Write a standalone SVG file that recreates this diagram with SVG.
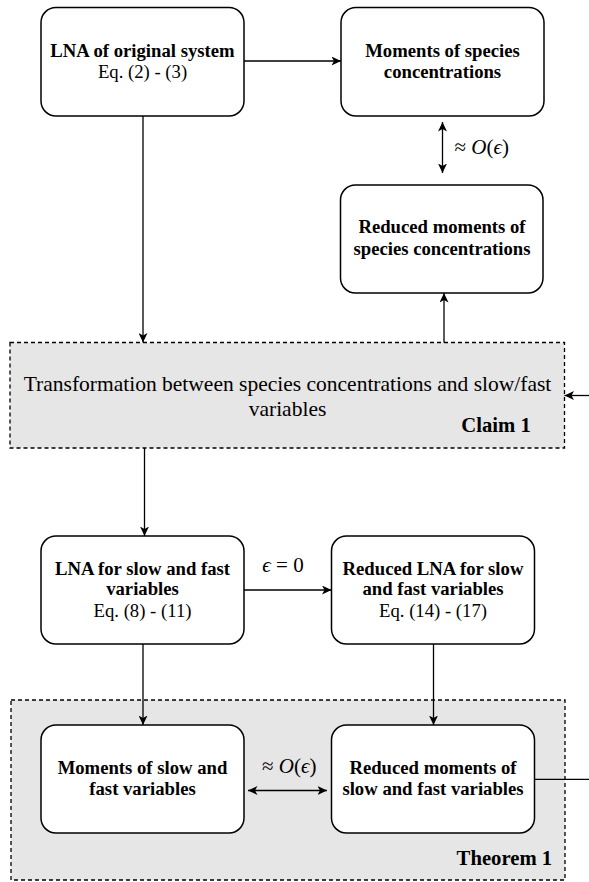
<svg xmlns="http://www.w3.org/2000/svg" width="589" height="882" viewBox="0 0 589 882">
<style>
  .box { fill: #ffffff; stroke: #000000; stroke-width: 1.5; }
  .grp { fill: #e6e6e6; stroke: #000000; stroke-width: 1.3; stroke-dasharray: 4 3; }
  text { font-family: 'Liberation Serif', 'DejaVu Serif', serif; fill: #000000; }
  .b { font-weight: bold; font-size: 18.7px; }
  .r { font-size: 18.7px; }
  .c { text-anchor: middle; }
  .edge { fill: none; stroke: #000000; stroke-width: 1.3; }
  .arr { marker-end: url(#ah); }
  .dbl { marker-start: url(#ah); marker-end: url(#ah); }
  .m { font-size: 21px; }
  .i { font-style: italic; }
</style>
<defs>
  <marker id="ah" markerUnits="userSpaceOnUse" markerWidth="10" markerHeight="9" refX="9.5" refY="4.5" orient="auto-start-reverse" viewBox="0 0 10 9">
    <path d="M0,0 L9.5,4.5 L0,9 L2.5,4.5 z" fill="#000000"/>
  </marker>
</defs>

<g id="claim1">
  <rect class="grp" x="10" y="342.5" width="554.5" height="105.5"/>
  <text class="c" x="287.5" y="390.5" font-size="21.5">Transformation between species concentrations and slow/fast</text>
  <text class="c" x="287.5" y="415.5" font-size="21.5">variables</text>
  <text x="530.8" y="432" font-size="20.7" font-weight="bold" text-anchor="end">Claim 1</text>
</g>

<g id="theorem1">
  <rect class="grp" x="11" y="700" width="554" height="180"/>
  <text x="552.2" y="865" font-size="20.7" font-weight="bold" text-anchor="end">Theorem 1</text>
</g>

<g id="connectors">
  <line class="edge arr" x1="244" y1="61" x2="341" y2="61"/>
  <line class="edge dbl" x1="442.5" y1="122" x2="442.5" y2="173"/>
  <text class="m" x="454.5" y="154">≈ <tspan class="i">O</tspan>(<tspan class="i">ϵ</tspan>)</text>
  <line class="edge arr" x1="143" y1="116" x2="143" y2="342.5"/>
  <line class="edge arr" x1="444" y1="342.5" x2="444" y2="293"/>
  <line class="edge arr" x1="589" y1="395.5" x2="564.5" y2="395.5"/>
  <line class="edge arr" x1="144.5" y1="448" x2="144.5" y2="536"/>
  <line class="edge arr" x1="244" y1="590" x2="331.5" y2="590"/>
  <text class="m" x="283" y="572" text-anchor="middle"><tspan class="i">ϵ</tspan> = 0</text>
  <line class="edge arr" x1="143" y1="644" x2="143" y2="725"/>
  <line class="edge arr" x1="433.5" y1="644" x2="433.5" y2="725"/>
  <line class="edge dbl" x1="248" y1="790.5" x2="327" y2="790.5"/>
  <text class="m" x="262" y="772.7">≈ <tspan class="i">O</tspan>(<tspan class="i">ϵ</tspan>)</text>
  <line class="edge" x1="534.5" y1="779.3" x2="589" y2="779.3"/>
</g>

<g id="lna-original">
  <rect class="box" x="41" y="7.5" width="203" height="108.5" rx="15" ry="15"/>
  <text class="b c" x="142.5" y="57">LNA of original system</text>
  <text class="r c" x="142.5" y="78">Eq. (2) - (3)</text>
</g>

<g id="moments-species">
  <rect class="box" x="341" y="7.5" width="203" height="108.5" rx="15" ry="15"/>
  <text class="b c" x="442.5" y="57">Moments of species</text>
  <text class="b c" x="442.5" y="77.5">concentrations</text>
</g>

<g id="reduced-moments-species">
  <rect class="box" x="340.5" y="185" width="202.5" height="108" rx="15" ry="15"/>
  <text class="b c" x="442" y="233.3">Reduced moments of</text>
  <text class="b c" x="442" y="254.5">species concentrations</text>
</g>

<g id="lna-slow-fast">
  <rect class="box" x="41" y="536" width="203" height="108" rx="15" ry="15"/>
  <text class="b c" x="142.5" y="574.5">LNA for slow and fast</text>
  <text class="b c" x="142.5" y="595">variables</text>
  <text class="r c" x="142.5" y="616.5">Eq. (8) - (11)</text>
</g>

<g id="reduced-lna">
  <rect class="box" x="331.5" y="536" width="203" height="108" rx="15" ry="15"/>
  <text class="b c" x="433" y="574.5">Reduced LNA for slow</text>
  <text class="b c" x="433" y="595">and fast variables</text>
  <text class="r c" x="433" y="616.5">Eq. (14) - (17)</text>
</g>

<g id="moments-slow-fast">
  <rect class="box" x="41" y="725" width="203" height="108" rx="15" ry="15"/>
  <text class="b c" x="142.5" y="773.5">Moments of slow and</text>
  <text class="b c" x="142.5" y="794.5">fast variables</text>
</g>

<g id="reduced-moments-slow-fast">
  <rect class="box" x="331.5" y="725" width="203" height="108" rx="15" ry="15"/>
  <text class="b c" x="433" y="773.5">Reduced moments of</text>
  <text class="b c" x="433" y="794.5">slow and fast variables</text>
</g>
</svg>
